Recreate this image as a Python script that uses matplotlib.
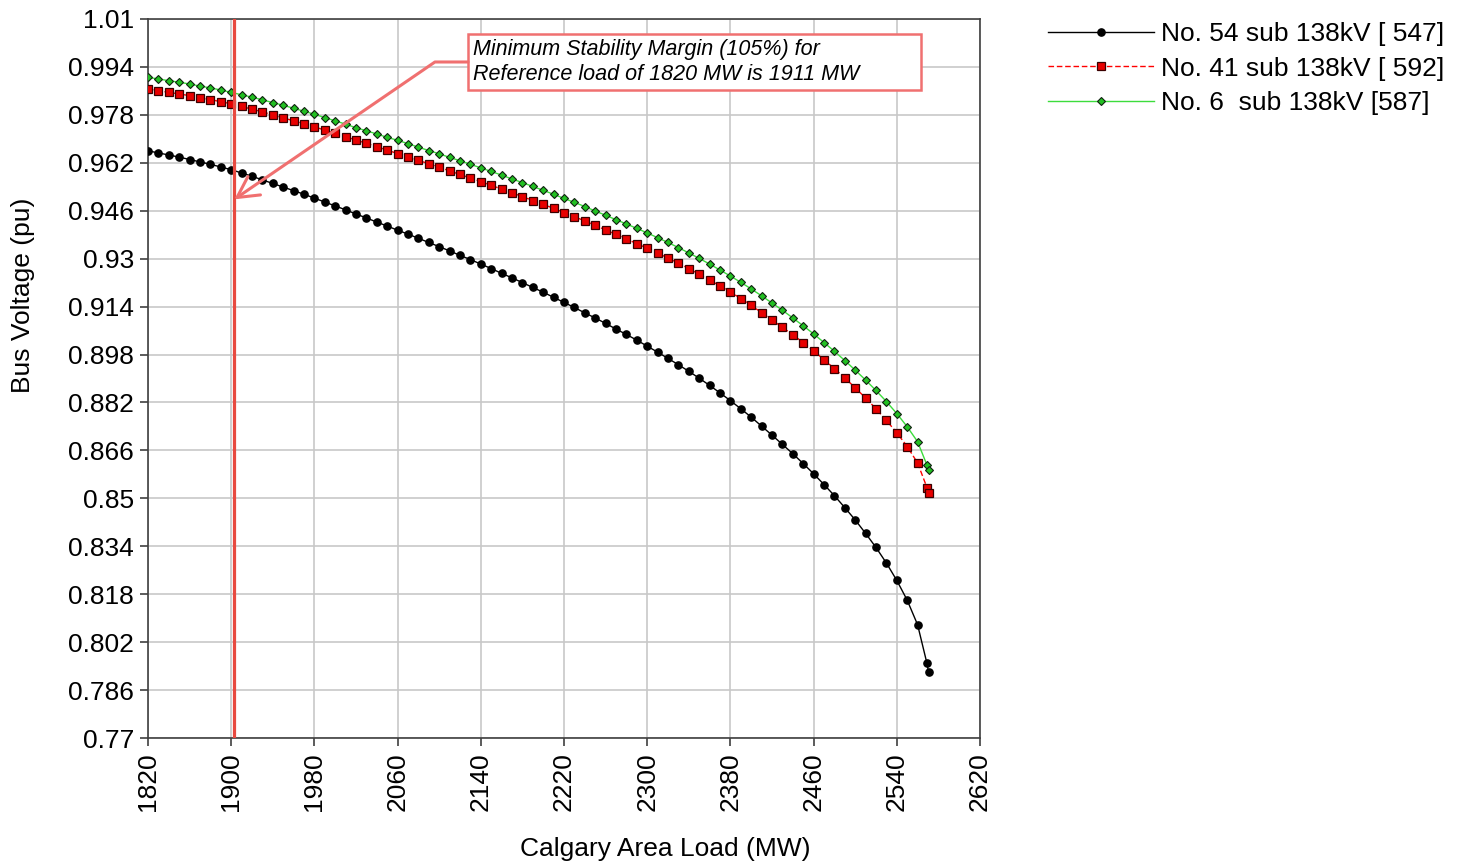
import matplotlib
matplotlib.use("Agg")
import matplotlib.pyplot as plt
from matplotlib.patches import Rectangle

# ---------------- data ----------------
loads = [1820, 1830, 1840, 1850, 1860, 1870, 1880, 1890, 1900,
         1910, 1920, 1930, 1940, 1950, 1960, 1970, 1980, 1990, 2000, 2010, 2020,
         2030, 2040, 2050, 2060, 2070, 2080, 2090, 2100, 2110, 2120,
         2130, 2140, 2150, 2160, 2170, 2180, 2190, 2200, 2210, 2220,
         2230, 2240, 2250, 2260, 2270, 2280, 2290, 2300,
         2310, 2320, 2330, 2340, 2350, 2360, 2370, 2380, 2390, 2400, 2410,
         2420, 2430, 2440, 2450, 2460, 2470, 2480, 2490, 2500, 2510, 2520, 2530, 2540, 2550, 2560,
         2569, 2570.5]

v_sub54 = [0.9660, 0.9653, 0.9646, 0.9639, 0.9631, 0.9623, 0.9615, 0.9606, 0.9597,
           0.9586, 0.9575, 0.9563, 0.9551, 0.9539, 0.9527, 0.9515, 0.9502, 0.9489, 0.9476, 0.9463, 0.9449,
           0.9436, 0.9422, 0.9409, 0.9395, 0.9382, 0.9368, 0.9354, 0.9340, 0.9326, 0.9311,
           0.9297, 0.9282, 0.9267, 0.9251, 0.9236, 0.9220, 0.9204, 0.9188, 0.9171, 0.9154,
           0.9137, 0.9119, 0.9102, 0.9084, 0.9065, 0.9047, 0.9028, 0.9008,
           0.8988, 0.8967, 0.8946, 0.8924, 0.8901, 0.8877, 0.8852, 0.8826, 0.8799, 0.8771, 0.8741,
           0.8711, 0.8680, 0.8649, 0.8616, 0.8582, 0.8546, 0.8509, 0.8469, 0.8428, 0.8383, 0.8336,
           0.8284, 0.8226, 0.8160, 0.8078,
           0.7949, 0.7920]

v_sub41 = [0.9866, 0.9861, 0.9855, 0.9850, 0.9844, 0.9837, 0.9831, 0.9824, 0.9817,
           0.9808, 0.9799, 0.9790, 0.9780, 0.9770, 0.9760, 0.9750, 0.9740, 0.9729, 0.9718, 0.9707, 0.9696,
           0.9685, 0.9674, 0.9662, 0.9651, 0.9640, 0.9628, 0.9617, 0.9605, 0.9593, 0.9581,
           0.9569, 0.9557, 0.9545, 0.9532, 0.9520, 0.9507, 0.9494, 0.9481, 0.9468, 0.9454,
           0.9440, 0.9426, 0.9411, 0.9396, 0.9381, 0.9366, 0.9350, 0.9335,
           0.9319, 0.9302, 0.9285, 0.9267, 0.9248, 0.9229, 0.9209, 0.9189, 0.9167, 0.9144, 0.9120,
           0.9095, 0.9071, 0.9046, 0.9020, 0.8992, 0.8963, 0.8933, 0.8902, 0.8869, 0.8835, 0.8799,
           0.8760, 0.8719, 0.8673, 0.8618,
           0.8536, 0.8519]

v_sub6 = [0.9905, 0.9900, 0.9894, 0.9889, 0.9883, 0.9876, 0.9870, 0.9863, 0.9855,
          0.9847, 0.9839, 0.9830, 0.9821, 0.9812, 0.9802, 0.9792, 0.9782, 0.9771, 0.9760, 0.9749, 0.9737,
          0.9727, 0.9716, 0.9705, 0.9695, 0.9684, 0.9672, 0.9661, 0.9650, 0.9638, 0.9627,
          0.9615, 0.9603, 0.9591, 0.9579, 0.9566, 0.9554, 0.9541, 0.9528, 0.9515, 0.9501,
          0.9488, 0.9474, 0.9459, 0.9445, 0.9430, 0.9416, 0.9401, 0.9386,
          0.9370, 0.9354, 0.9337, 0.9319, 0.9301, 0.9282, 0.9262, 0.9242, 0.9221, 0.9199, 0.9176,
          0.9152, 0.9128, 0.9102, 0.9076, 0.9049, 0.9020, 0.8991, 0.8960, 0.8928, 0.8895, 0.8860,
          0.8823, 0.8783, 0.8739, 0.8689,
          0.8611, 0.8594]

series_labels = ["No. 54 sub 138kV [ 547]", "No. 41 sub 138kV [ 592]", "No. 6  sub 138kV [587]"]

x_ticks = [1820, 1900, 1980, 2060, 2140, 2220, 2300, 2380, 2460, 2540, 2620]
y_ticks = [0.77, 0.786, 0.802, 0.818, 0.834, 0.85, 0.866, 0.882, 0.898,
           0.914, 0.93, 0.946, 0.962, 0.978, 0.994, 1.01]
y_tick_labels = ["0.77", "0.786", "0.802", "0.818", "0.834", "0.85", "0.866", "0.882", "0.898",
                 "0.914", "0.93", "0.946", "0.962", "0.978", "0.994", "1.01"]

margin_load = 1903
annotation_text = "Minimum Stability Margin (105%) for\nReference load of 1820 MW is 1911 MW"

# ---------------- figure ----------------
plt.rcParams['font.family'] = ['Liberation Sans', 'DejaVu Sans']

W, H = 1463, 868
fig = plt.figure(figsize=(W / 100, H / 100), dpi=100)
ax = fig.add_axes([148 / W, 130 / H, 832 / W, 719 / H])

ax.plot(loads, v_sub54, color='black', lw=1.0, marker='o', ms=5.2, mfc='black', mec='black',
        label=series_labels[0], zorder=3)
ax.plot(loads, v_sub41, color='red', lw=1.0, ls=(0, (4, 2)), marker='s', ms=5.8,
        mfc='#e80000', mec='#3a0000', mew=0.9, label=series_labels[1], zorder=3)
ax.plot(loads, v_sub6, color='#3cdc3c', lw=1.0, marker='D', ms=4, mfc='#22c022',
        mec='#102010', mew=0.8, label=series_labels[2], zorder=3)

ax.set_xlim(1820, 2620)
ax.set_ylim(0.77, 1.01)
ax.set_xticks(x_ticks)
ax.set_xticklabels([str(t) for t in x_ticks], rotation=90)
ax.set_yticks(y_ticks)
ax.set_yticklabels(y_tick_labels)

ax.grid(True, color='#c8c8c8', lw=1.2)
ax.set_axisbelow(True)
for s in ax.spines.values():
    s.set_color('#404040')
    s.set_linewidth(1.2)
ax.tick_params(direction='out', length=6, width=1.2, color='#404040', labelsize=19, pad=4)

ax.set_ylabel("Bus Voltage (pu)", fontsize=19)
ax.yaxis.set_label_coords((35 - 148) / 832, (738 - 295) / 719)
ax.set_xlabel("Calgary Area Load (MW)", fontsize=19)
ax.xaxis.set_label_coords((665 - 148) / 832, (738 - 837) / 719)

# vertical margin line
ax.axvline(margin_load, color='#e84a40', lw=2.3, zorder=6)

# annotation box
bx0, bx1 = 2127.7, 2563.3
by0, by1 = 0.9863, 1.0050
ax.add_patch(Rectangle((bx0, by0), bx1 - bx0, by1 - by0, facecolor='white',
                       edgecolor='#f07070', lw=1.8, zorder=7))
ax.text(2132.5, (by0 + by1) / 2, annotation_text, fontsize=15.5, style='italic',
        ha='left', va='center', zorder=8)
ax.annotate('', xy=(margin_load, 0.9498), xytext=(bx0, (by0 + by1) / 2),
            arrowprops=dict(arrowstyle='->,head_length=0.75,head_width=0.4',
                            connectionstyle='angle,angleA=0,angleB=34.4',
                            color='#f07070', lw=2.2, mutation_scale=20,
                            shrinkA=0, shrinkB=0),
            zorder=7)

ax.legend(loc='upper left', bbox_to_anchor=(1048 / W, 1 - 22 / H),
          bbox_transform=fig.transFigure, frameon=False, borderpad=0,
          borderaxespad=0, handlelength=4.0, handletextpad=0.27,
          labelspacing=0.4, fontsize=19)

fig.savefig("out.png", dpi=100)
